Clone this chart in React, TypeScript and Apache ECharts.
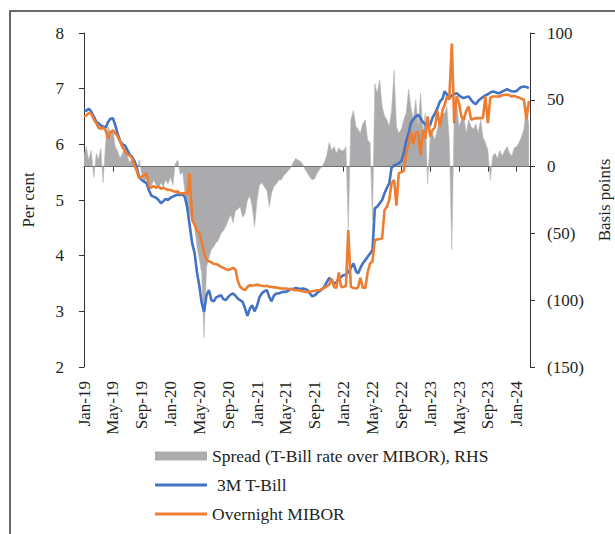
import React, { useEffect, useRef } from "react";
import * as echarts from "echarts";

// Sampling grid: three observations per month (1st, 11th, 21st)
const months = [
  "2019-01", "2019-02", "2019-03", "2019-04", "2019-05", "2019-06", "2019-07", "2019-08", "2019-09", "2019-10", "2019-11", "2019-12",
  "2020-01", "2020-02", "2020-03", "2020-04", "2020-05", "2020-06", "2020-07", "2020-08", "2020-09", "2020-10", "2020-11", "2020-12",
  "2021-01", "2021-02", "2021-03", "2021-04", "2021-05", "2021-06", "2021-07", "2021-08", "2021-09", "2021-10", "2021-11", "2021-12",
  "2022-01", "2022-02", "2022-03", "2022-04", "2022-05", "2022-06", "2022-07", "2022-08", "2022-09", "2022-10", "2022-11", "2022-12",
  "2023-01", "2023-02", "2023-03", "2023-04", "2023-05", "2023-06", "2023-07", "2023-08", "2023-09", "2023-10", "2023-11", "2023-12",
  "2024-01", "2024-02",
];
const slotDays = [1, 11, 21];

// 3M T-Bill (per cent)
const tbill = [
  6.62, 6.60, 6.64, 6.59, 6.50, 6.40, 6.38, 6.34, 6.32, 6.30, 6.40, 6.46,
  6.47, 6.35, 6.20, 6.06, 6.00, 5.98, 5.90, 5.82, 5.78, 5.70, 5.58, 5.42,
  5.36, 5.33, 5.30, 5.18, 5.08, 5.06, 5.04, 5.00, 4.94, 4.98, 5.02, 5.00,
  5.04, 5.06, 5.08, 5.10, 5.09, 5.10, 5.05, 4.85, 4.55, 4.22, 4.05, 3.70,
  3.45, 3.15, 2.99, 3.30, 3.38, 3.20, 3.18, 3.25, 3.27, 3.29, 3.22, 3.20,
  3.26, 3.30, 3.32, 3.28, 3.23, 3.20, 3.17, 3.05, 2.92, 3.05, 3.11, 3.00,
  3.10, 3.25, 3.32, 3.36, 3.38, 3.25, 3.18, 3.28, 3.32, 3.32, 3.34, 3.35,
  3.35, 3.37, 3.40, 3.40, 3.42, 3.41, 3.40, 3.41, 3.40, 3.38, 3.32, 3.27,
  3.29, 3.33, 3.36, 3.40, 3.44, 3.52, 3.60, 3.55, 3.50, 3.52, 3.58, 3.62,
  3.65, 3.66, 3.70, 3.78, 3.86, 3.72, 3.68, 3.78, 3.86, 3.92, 3.98, 4.04,
  4.10, 4.85, 4.88, 4.94, 5.00, 5.12, 5.22, 5.30, 5.58, 5.62, 5.64, 5.66,
  5.70, 5.84, 6.05, 6.20, 6.38, 6.45, 6.50, 6.53, 6.47, 6.40, 6.36, 6.32,
  6.35, 6.48, 6.55, 6.65, 6.77, 6.82, 6.95, 6.90, 6.83, 6.88, 6.90, 6.92,
  6.88, 6.85, 6.83, 6.85, 6.86, 6.80, 6.75, 6.72, 6.78, 6.82, 6.85, 6.88,
  6.90, 6.93, 6.95, 6.94, 6.92, 6.92, 6.95, 6.97, 6.99, 6.97, 6.95, 6.95,
  6.96, 7.00, 7.03, 7.04, 7.03, 7.01,
];

// Overnight MIBOR (per cent)
const mibor = [
  6.50, 6.52, 6.56, 6.55, 6.45, 6.38, 6.30, 6.28, 6.30, 6.25, 6.10, 6.22,
  6.25, 6.20, 6.15, 6.05, 5.95, 5.88, 5.82, 5.80, 5.76, 5.62, 5.52, 5.39,
  5.42, 5.45, 5.48, 5.24, 5.22, 5.25, 5.22, 5.24, 5.20, 5.22, 5.20, 5.18,
  5.18, 5.16, 5.15, 5.15, 5.12, 5.12, 5.12, 5.10, 5.48, 4.64, 4.55, 4.45,
  4.40, 4.25, 4.05, 3.92, 3.90, 3.88, 3.85, 3.85, 3.83, 3.80, 3.78, 3.76,
  3.74, 3.76, 3.78, 3.75, 3.55, 3.44, 3.40, 3.38, 3.44, 3.47, 3.46, 3.47,
  3.48, 3.47, 3.46, 3.45, 3.46, 3.44, 3.44, 3.43, 3.43, 3.42, 3.41, 3.41,
  3.41, 3.40, 3.40, 3.39, 3.38, 3.38, 3.37, 3.36, 3.35, 3.35, 3.35, 3.36,
  3.37, 3.38, 3.38, 3.40, 3.42, 3.45, 3.48, 3.59, 3.44, 3.42, 3.70, 3.44,
  3.44, 3.46, 4.46, 3.44, 3.42, 3.41, 3.43, 3.60, 3.43, 3.42, 3.70, 3.86,
  3.90, 4.28, 4.29, 4.30, 4.31, 4.82, 4.88, 5.00, 5.30, 5.36, 4.90, 5.48,
  5.50, 5.52, 5.84, 6.00, 6.23, 6.00, 6.20, 6.23, 5.80, 6.26, 6.10, 6.50,
  6.14, 6.26, 6.30, 6.60, 6.32, 6.62, 6.70, 6.86, 6.80, 7.81, 6.38, 6.86,
  6.74, 6.50, 6.44, 6.60, 6.68, 6.44, 6.46, 6.47, 6.47, 6.47, 6.48, 6.86,
  6.38, 6.84, 6.86, 6.86, 6.86, 6.86, 6.88, 6.89, 6.89, 6.88, 6.86, 6.87,
  6.85, 6.84, 6.82, 6.80, 6.45, 6.78,
];

// Spread (T-Bill rate over MIBOR), basis points
const spread = [
  8, 15, 5, 12, -8, 10, 5, 14, -12, 18, 30, 25,
  28, 15, 12, 6, 10, 14, 8, 3, 6, 2, -4, 5,
  -5, -12, -8, -12, -15, -10, -14, -16, -12, -15, -10, -13,
  -8, -14, 2, 5, -6, -4, -20, -30, -35, -40, -45, -60,
  -70, -80, -128, -75, -68, -62, -60, -57, -55, -50, -48, -45,
  -40, -36, -42, -33, -32, -30, -38, -35, -25, -22, -30, -45,
  -25, -14, -12, -15, -18, -30, -20, -15, -13, -10, -10, -7,
  -5, -3, -1, 3, 6, 5, 4, 2, -2, -5, -8, -10,
  -9, -5, -2, 0, 3, 8, 18, 12, 15, 10, 14, 12,
  12, 15, -47, 35, 42, 30, 28, 25, 32, 35, 20, 18,
  -40, 62, 55, 65, 45, 38, 35, 30, 42, 72, 30, 25,
  28, 35, 40, 58, 45, 35, 50, 30, 55, 25, 40, -13,
  22, 25, 20, 28, 35, 40, 40, 45, 20, -62, 40, 47,
  30, 35, 38, 25, 35, 30, 28, 32, 25, 35, 22, 18,
  12, -10, 8, 10, 6, 12, 8, 12, 15, 10, 8, 14,
  15, 18, 22, 28, 45, 30,
];

const xTickLabels = [
  "Jan-19", "May-19", "Sep-19", "Jan-20", "May-20", "Sep-20", "Jan-21", "May-21",
  "Sep-21", "Jan-22", "May-22", "Sep-22", "Jan-23", "May-23", "Sep-23", "Jan-24",
];

const SERIES_SPREAD = "Spread (T-Bill rate over MIBOR), RHS";
const SERIES_TBILL = "3M T-Bill";
const SERIES_MIBOR = "Overnight MIBOR";

// months elapsed since 1 Jan 2019 (x scale unit)
function monthIndex(ym: string, day: number): number {
  const [y, m] = ym.split("-").map(Number);
  const dim = new Date(y, m, 0).getDate();
  return (y - 2019) * 12 + (m - 1) + (day - 1) / dim;
}

const xs: number[] = [];
months.forEach((ym) => slotDays.forEach((d) => xs.push(monthIndex(ym, d))));

const FONT = "'Liberation Serif', 'DejaVu Serif', serif";
const TEXT = "#231f20";
const LINE_ICON = "path://M0,0H52V3H0Z";

export default function App() {
  const ref = useRef<HTMLDivElement>(null);
  useEffect(() => {
    if (!ref.current) return;
    const chart = echarts.init(ref.current, undefined, { renderer: "svg" });
    const pair = (vals: number[]) => vals.map((v, i) => [xs[i], v]);
    chart.setOption({
      animation: false,
      backgroundColor: "#ffffff",
      textStyle: { fontFamily: FONT, color: TEXT },
      graphic: [
        {
          type: "rect",
          shape: { x: 10, y: 11, width: 640, height: 560 },
          style: { fill: "none", stroke: "#3a3a3a", lineWidth: 1.5 },
          z: -10,
        },
      ],
      grid: {
        left: 84,
        right: 85,
        top: 33,
        bottom: 167,
        containLabel: false,
        outerBoundsMode: "none",
      },
      legend: {
        orient: "vertical",
        left: 155,
        top: 447,
        padding: 0,
        itemWidth: 52,
        itemHeight: 9,
        itemGap: 11,
        symbolKeepAspect: true,
        textStyle: { fontFamily: FONT, fontSize: 17.5, color: TEXT },
        data: [
          { name: SERIES_SPREAD, icon: "rect" },
          { name: SERIES_TBILL, icon: LINE_ICON, textStyle: { padding: [0, 0, 0, 5] } },
          { name: SERIES_MIBOR, icon: LINE_ICON },
        ],
      },
      xAxis: {
        type: "value",
        min: 0,
        max: 61.84,
        interval: 4,
        splitLine: { show: false },
        axisLine: { lineStyle: { color: "#333", width: 1 } },
        axisTick: { show: true, length: 5, lineStyle: { color: "#333" } },
        axisLabel: {
          rotate: 90,
          margin: 14,
          showMaxLabel: false,
          fontFamily: FONT,
          fontSize: 17,
          color: TEXT,
          formatter: (v: number) => xTickLabels[Math.round(v / 4)] ?? "",
        },
      },
      yAxis: [
        {
          type: "value",
          min: 2,
          max: 8,
          interval: 1,
          position: "left",
          name: "Per cent",
          nameLocation: "middle",
          nameRotate: 90,
          nameGap: 47,
          nameTextStyle: { fontFamily: FONT, fontSize: 17, color: TEXT },
          splitLine: { show: false },
          axisLine: { show: true, lineStyle: { color: "#333", width: 1 } },
          axisTick: { show: true, length: 5, lineStyle: { color: "#333" } },
          axisLabel: { margin: 20, fontFamily: FONT, fontSize: 17, color: TEXT },
        },
        {
          type: "value",
          min: -150,
          max: 100,
          interval: 50,
          position: "right",
          name: "Basis points",
          nameLocation: "middle",
          nameRotate: 90,
          nameGap: 66,
          nameTextStyle: { fontFamily: FONT, fontSize: 17, color: TEXT },
          splitLine: { show: false },
          axisLine: { show: true, lineStyle: { color: "#333", width: 1 } },
          axisTick: { show: true, length: 5, lineStyle: { color: "#333" } },
          axisLabel: {
            margin: 17,
            fontFamily: FONT,
            fontSize: 17,
            color: TEXT,
            formatter: (v: number) => (v < 0 ? `(${-v})` : `${v}`),
          },
        },
      ],
      series: [
        {
          name: SERIES_SPREAD,
          type: "line",
          yAxisIndex: 1,
          data: pair(spread),
          symbol: "none",
          color: "#ababae",
          lineStyle: { width: 0.6, color: "#b8b8bb" },
          areaStyle: { color: "#ababae", opacity: 1 },
          z: 1,
        },
        {
          name: SERIES_TBILL,
          type: "line",
          data: pair(tbill),
          symbol: "none",
          color: "#4472c4",
          lineStyle: { width: 2.6, color: "#4472c4" },
          z: 3,
        },
        {
          name: SERIES_MIBOR,
          type: "line",
          data: pair(mibor),
          symbol: "none",
          color: "#ed7d31",
          lineStyle: { width: 2.6, color: "#ed7d31" },
          z: 4,
        },
      ],
    });
    return () => chart.dispose();
  }, []);
  return (
    <div
      ref={ref}
      style={{ position: "absolute", left: 0, top: 0, width: 615, height: 534 }}
    />
  );
}
